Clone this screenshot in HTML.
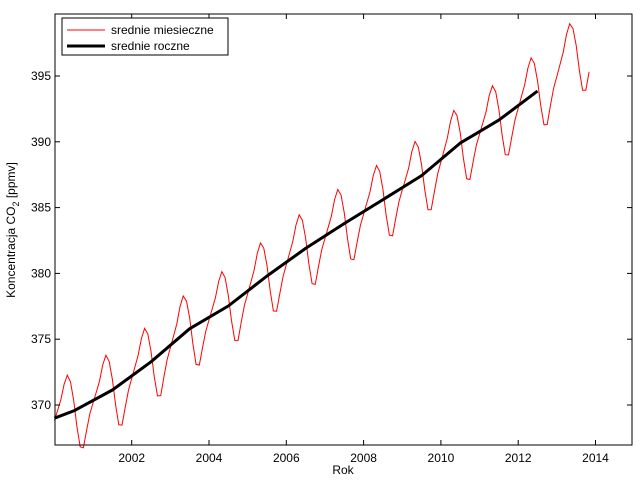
<!DOCTYPE html><html><head><style>body{margin:0;background:#fff}svg{font-family:"Liberation Sans",sans-serif}</style></head><body>
<svg id="s" width="640" height="480" xmlns="http://www.w3.org/2000/svg">
<rect width="640" height="480" fill="#fff"/>
<g id="d"></g>
<rect x="55" y="14" width="577" height="431" fill="none" stroke="#000" stroke-width="1"/>
<g id="t" stroke="#000" stroke-width="1"></g>
<g id="l" font-size="12" fill="#000"></g>
<text x="343" y="474" font-size="12" text-anchor="middle">Rok</text>
<text transform="translate(15,230) rotate(-90)" font-size="12" text-anchor="middle">Koncentracja CO<tspan font-size="9" dy="4">2</tspan><tspan dy="-4"> [ppmv]</tspan></text>
<rect x="62" y="18" width="166" height="37" fill="#fff" stroke="#000"/>
<line x1="67" y1="30" x2="105" y2="30" stroke="#f00" stroke-width="1"/>
<line x1="67" y1="46" x2="105" y2="46" stroke="#000" stroke-width="3"/>
<text x="111" y="34" font-size="12">srednie miesieczne</text>
<text x="111" y="50" font-size="12">srednie roczne</text>
</svg>
<script>
var X=function(t){return 54.4+(t-2000)*38.65},Y=function(v){return 405-(v-370)*13.16};
var am=[369.55,371.14,373.28,375.80,377.52,379.80,381.90,383.79,385.60,387.43,389.90,391.65,393.85,396.52];
var se=[-0.2,0.5,1.2,2.3,2.9,2.3,0.8,-1.3,-3.0,-3.2,-2.0,-0.9];
function tr(t){var u=t-2000.5;if(u<=0)return am[0]+u*1.1;var i=Math.floor(u);if(i>=am.length-1)return am[am.length-1]+(u-am.length+1)*2.4;return am[i]+(am[i+1]-am[i])*(u-i);}
var p=[];for(var y=2000;y<=2013;y++)for(var m=0;m<12;m++){if(y==2013&&m>10)break;var t=y+m/12;p.push(X(t).toFixed(1)+","+Y(tr(t)+se[m]).toFixed(1));}
var q=[X(2000).toFixed(1)+","+Y(369.0).toFixed(1)];for(var i=0;i<13;i++)q.push(X(2000.5+i).toFixed(1)+","+Y(am[i]).toFixed(1));
var d=document.getElementById("d");
d.innerHTML='<polyline points="'+p.join(" ")+'" fill="none" stroke="#f00" stroke-width="1"/><polyline points="'+q.join(" ")+'" fill="none" stroke="#000" stroke-width="3" stroke-linejoin="round"/>';
var t="",l="";
for(var yr=2002;yr<=2014;yr+=2){var x=X(yr).toFixed(1);t+='<line x1="'+x+'" y1="445" x2="'+x+'" y2="440"/><line x1="'+x+'" y1="14" x2="'+x+'" y2="19"/>';l+='<text x="'+x+'" y="462" text-anchor="middle">'+yr+'</text>';}
for(var v=370;v<=395;v+=5){var yy=Y(v).toFixed(1);t+='<line x1="55" y1="'+yy+'" x2="60" y2="'+yy+'"/><line x1="632" y1="'+yy+'" x2="627" y2="'+yy+'"/>';l+='<text x="51" y="'+(+yy+4)+'" text-anchor="end">'+v+'</text>';}
document.getElementById("t").innerHTML=t;document.getElementById("l").innerHTML=l;
</script></body></html>
